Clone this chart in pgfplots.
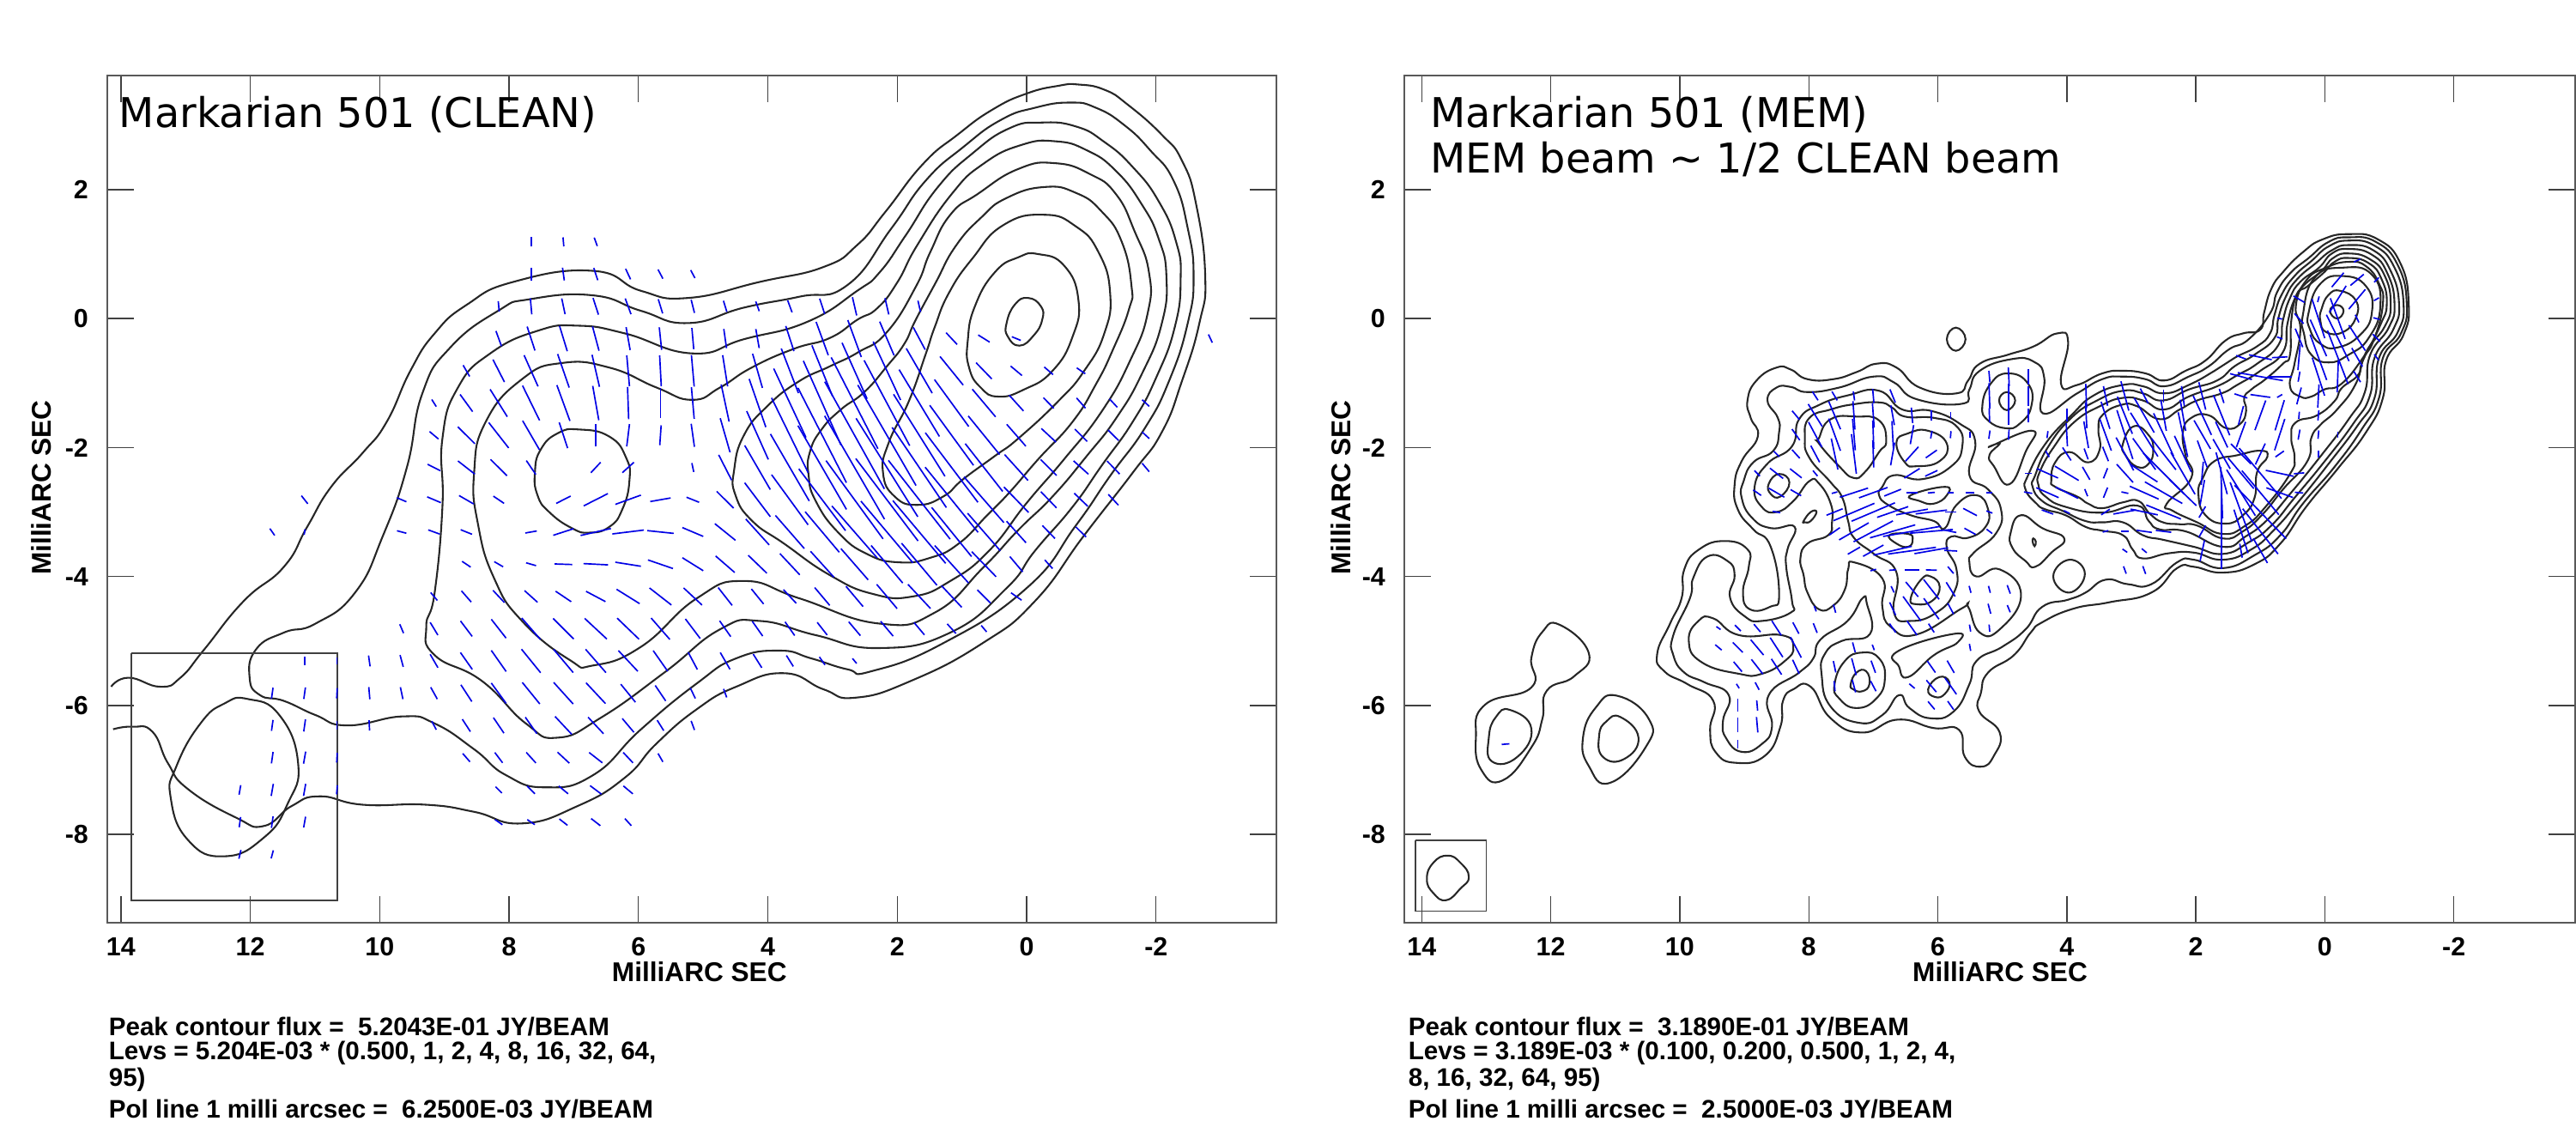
\documentclass[border=0pt]{standalone}
\usepackage{pgfplots}
\pgfplotsset{compat=1.18}
\usepackage{pgfplotstable}
\usepackage{fontspec}
\setmainfont{Liberation Sans}
\newfontfamily\ttl{DejaVu Sans}
\pgfplotstableread{
x y L a
7.66 1.19 .15 0
7.16 1.19 .14 5
6.66 1.19 .14 20
7.66 .69 .2 0
7.16 .69 .2 8
6.66 .69 .2 18
6.16 .69 .18 25
5.66 .69 .16 28
5.16 .69 .14 28
8.16 .19 .16 5
7.66 .19 .25 5
7.16 .19 .25 12
6.66 .19 .27 18
6.16 .19 .26 20
5.66 .19 .23 17
5.16 .19 .21 14
4.66 .19 .18 17
4.16 .19 .16 20
3.66 .19 .2 20
3.16 .19 .25 18
2.66 .19 .29 13
2.16 .19 .26 13
1.66 .19 .18 13
8.16 -.31 .25 20
7.66 -.31 .39 18
7.16 -.31 .41 17
6.66 -.31 .39 15
6.16 -.31 .36 10
5.66 -.31 .35 6
5.16 -.31 .33 5
4.66 -.31 .3 8
4.16 -.31 .3 10
3.66 -.31 .41 18
3.16 -.31 .55 20
2.66 -.31 .61 20
2.16 -.31 .57 23
1.66 -.31 .39 28
1.16 -.31 .25 43
.66 -.31 .21 58
.16 -.31 .15 68
-2.84 -.31 .14 25
8.66 -.81 .2 30
8.16 -.81 .39 27
7.66 -.81 .53 24
7.16 -.81 .55 19
6.66 -.81 .51 13
6.16 -.81 .48 5
5.66 -.81 .48 3
5.16 -.81 .49 5
4.66 -.81 .49 9
4.16 -.81 .55 16
3.66 -.81 .74 21
3.16 -.81 .85 22
2.66 -.81 .95 24
2.16 -.81 1.0 25
1.66 -.81 .8 30
1.16 -.81 .57 39
.66 -.81 .35 44
.16 -.81 .23 50
-.34 -.81 .18 49
-.84 -.81 .16 55
9.16 -1.31 .13 32
8.66 -1.31 .33 36
8.16 -1.31 .5 32
7.66 -1.31 .6 26
7.16 -1.31 .59 20
6.66 -1.31 .54 10
6.16 -1.31 .5 2
5.66 -1.31 .47 0
5.16 -1.31 .49 5
4.66 -1.31 .59 12
4.16 -1.31 .79 19
3.66 -1.31 1.18 25
3.16 -1.31 1.43 24
2.66 -1.31 1.59 27
2.16 -1.31 1.5 28
1.66 -1.31 1.21 31
1.16 -1.31 .9 36
.66 -1.31 .56 40
.16 -1.31 .33 42
-.34 -1.31 .23 44
-.84 -1.31 .21 41
-1.34 -1.31 .18 43
-1.84 -1.31 .15 47
9.16 -1.81 .18 50
8.66 -1.81 .37 45
8.16 -1.81 .5 38
7.66 -1.81 .52 30
7.16 -1.81 .42 18
6.66 -1.81 .35 0
6.16 -1.81 .35 -7
5.66 -1.81 .31 -4
5.16 -1.81 .36 8
4.66 -1.81 .55 16
4.16 -1.81 .82 24
3.66 -1.81 1.29 26
3.16 -1.81 1.65 27
2.66 -1.81 1.9 29
2.16 -1.81 1.8 30
1.66 -1.81 1.5 32
1.16 -1.81 1.15 36
.66 -1.81 .77 39
.16 -1.81 .45 41
-.34 -1.81 .31 47
-.84 -1.81 .27 45
-1.34 -1.81 .23 45
-1.84 -1.81 .15 47
9.16 -2.31 .22 63
8.66 -2.31 .33 52
8.16 -2.31 .36 45
7.66 -2.31 .26 34
6.66 -2.31 .22 -43
6.16 -2.31 .24 -48
5.16 -2.31 .14 12
4.66 -2.31 .44 27
4.16 -2.31 .79 30
3.66 -2.31 1.2 30
3.16 -2.31 1.5 30
2.66 -2.31 1.85 30
2.16 -2.31 1.8 32
1.66 -2.31 1.5 34
1.16 -2.31 1.35 37
.66 -2.31 .94 38
.16 -2.31 .54 42
-.34 -2.31 .35 45
-.84 -2.31 .31 48
-1.34 -2.31 .28 44
-1.84 -2.31 .17 40
11.16 -2.81 .16 38
9.66 -2.81 .16 67
9.16 -2.81 .23 67
8.66 -2.81 .26 60
8.16 -2.81 .2 56
7.16 -2.81 .25 -63
6.66 -2.81 .42 -63
6.16 -2.81 .42 -70
5.66 -2.81 .32 -80
5.16 -2.81 .21 68
4.66 -2.81 .37 45
4.16 -2.81 .66 37
3.66 -2.81 .96 36
3.16 -2.81 1.2 37
2.66 -2.81 1.5 36
2.16 -2.81 1.6 37
1.66 -2.81 1.55 38
1.16 -2.81 1.3 39
.66 -2.81 .94 41
.16 -2.81 .55 44
-.34 -2.81 .35 44
-.84 -2.81 .29 46
-1.34 -2.81 .23 43
11.66 -3.31 .13 35
11.16 -3.31 .09 -10
9.66 -3.31 .15 75
9.16 -3.31 .19 70
8.66 -3.31 .19 68
7.66 -3.31 .18 -80
7.16 -3.31 .33 -72
6.66 -3.31 .48 -77
6.16 -3.31 .49 -83
5.66 -3.31 .41 84
5.16 -3.31 .35 67
4.66 -3.31 .41 51
4.16 -3.31 .54 42
3.66 -3.31 .68 41
3.16 -3.31 .82 40
2.66 -3.31 1.07 41
2.16 -3.31 1.25 40
1.66 -3.31 1.27 40
1.16 -3.31 .98 39
.66 -3.31 .77 41
.16 -3.31 .45 42
-.34 -3.31 .28 44
-.84 -3.31 .22 45
8.66 -3.81 .16 56
8.16 -3.81 .16 60
7.66 -3.81 .16 74
7.16 -3.81 .27 88
6.66 -3.81 .38 87
6.16 -3.81 .4 81
5.66 -3.81 .41 71
5.16 -3.81 .38 58
4.66 -3.81 .39 49
4.16 -3.81 .4 46
3.66 -3.81 .45 43
3.16 -3.81 .54 42
2.66 -3.81 .64 41
2.16 -3.81 .76 40
1.66 -3.81 .85 40
1.16 -3.81 .78 42
.66 -3.81 .54 44
.16 -3.81 .31 40
-.34 -3.81 .18 42
9.16 -4.31 .16 40
8.66 -4.31 .23 41
8.16 -4.31 .26 43
7.66 -4.31 .27 48
7.16 -4.31 .29 56
6.66 -4.31 .34 62
6.16 -4.31 .42 58
5.66 -4.31 .43 52
5.16 -4.31 .39 47
4.66 -4.31 .35 38
4.16 -4.31 .3 39
3.66 -4.31 .29 43
3.16 -4.31 .36 40
2.66 -4.31 .41 40
2.16 -4.31 .49 40
1.66 -4.31 .51 43
1.16 -4.31 .46 43
.66 -4.31 .29 45
.16 -4.31 .2 55
9.66 -4.81 .15 23
9.16 -4.81 .23 31
8.66 -4.81 .3 37
8.16 -4.81 .37 38
7.66 -4.81 .44 41
7.16 -4.81 .45 45
6.66 -4.81 .47 47
6.16 -4.81 .47 46
5.66 -4.81 .44 41
5.16 -4.81 .38 37
4.66 -4.81 .3 35
4.16 -4.81 .28 35
3.66 -4.81 .26 35
3.16 -4.81 .25 38
2.66 -4.81 .28 40
2.16 -4.81 .3 40
1.66 -4.81 .25 40
1.16 -4.81 .2 42
.66 -4.81 .13 40
11.16 -5.31 .13 0
10.66 -5.31 .1 0
10.16 -5.31 .17 8
9.66 -5.31 .19 15
9.16 -5.31 .24 30
8.66 -5.31 .32 35
8.16 -5.31 .4 35
7.66 -5.31 .47 39
7.16 -5.31 .47 40
6.66 -5.31 .48 41
6.16 -5.31 .44 43
5.66 -5.31 .39 35
5.16 -5.31 .3 28
4.66 -5.31 .3 30
4.16 -5.31 .25 32
3.66 -5.31 .2 32
3.16 -5.31 .15 35
2.66 -5.31 .1 40
11.66 -5.81 .17 -8
11.16 -5.81 .18 -8
10.66 -5.81 .16 -3
10.16 -5.81 .19 5
9.66 -5.81 .19 12
9.16 -5.81 .21 29
8.66 -5.81 .31 33
8.16 -5.81 .39 36
7.66 -5.81 .43 39
7.16 -5.81 .45 42
6.66 -5.81 .44 43
6.16 -5.81 .36 39
5.66 -5.81 .29 34
5.16 -5.81 .18 26
4.66 -5.81 .14 20
11.66 -6.31 .17 -8
11.16 -6.31 .19 -8
10.66 -6.31 .13 0
10.16 -6.31 .16 3
9.16 -6.31 .15 28
8.66 -6.31 .23 33
8.16 -6.31 .29 34
7.66 -6.31 .31 35
7.16 -6.31 .38 43
6.66 -6.31 .35 43
6.16 -6.31 .28 40
5.66 -6.31 .19 32
5.16 -6.31 .15 20
11.66 -6.81 .18 -8
11.16 -6.81 .19 -10
10.66 -6.81 .15 -3
8.66 -6.81 .17 41
8.16 -6.81 .2 37
7.66 -6.81 .22 42
7.16 -6.81 .25 47
6.66 -6.81 .26 52
6.16 -6.81 .22 43
5.66 -6.81 .15 30
12.16 -7.31 .15 -10
11.66 -7.31 .19 -10
11.16 -7.31 .19 -10
10.66 -7.31 .14 -5
8.16 -7.31 .14 45
7.66 -7.31 .17 45
7.16 -7.31 .19 50
6.66 -7.31 .22 53
6.16 -7.31 .19 50
12.16 -7.81 .16 -8
11.66 -7.81 .18 -8
11.16 -7.81 .17 -10
8.16 -7.81 .14 55
7.66 -7.81 .14 56
7.16 -7.81 .16 52
6.66 -7.81 .18 52
6.16 -7.81 .15 42
12.16 -8.31 .14 -13
11.66 -8.31 .13 -15
}\poleft
\pgfplotstableread{
x y L a
9.1 -6.6 .13 0
9.1 -6.3 .22 0
8.8 -6.3 .24 5
9.1 -6.0 .2 0
8.8 -6.0 .16 5
6.1 -6.0 .16 40
5.8 -6.0 .16 35
9.1 -5.7 .08 32
8.8 -5.7 .13 28
7.6 -5.7 .16 5
7.3 -5.7 .2 15
7.0 -5.7 .18 28
6.4 -5.7 .11 50
6.1 -5.7 .24 40
5.8 -5.7 .31 35
9.1 -5.4 .2 40
8.8 -5.4 .29 38
8.5 -5.4 .29 33
8.2 -5.4 .24 25
7.6 -5.4 .18 12
7.3 -5.4 .27 15
7.0 -5.4 .2 20
6.1 -5.4 .22 35
5.8 -5.4 .22 30
9.4 -5.1 .13 50
9.1 -5.1 .22 45
8.8 -5.1 .31 40
8.5 -5.1 .36 33
8.2 -5.1 .36 28
7.3 -5.1 .16 15
7.0 -5.1 .09 20
5.5 -5.1 .11 10
9.4 -4.8 .08 55
9.1 -4.8 .13 45
8.8 -4.8 .16 40
8.5 -4.8 .27 33
8.2 -4.8 .2 28
7.9 -4.8 .16 22
6.7 -4.8 .17 35
6.4 -4.8 .27 35
6.1 -4.8 .16 33
5.5 -4.8 .11 10
5.2 -4.8 .11 5
7.9 -4.5 .09 20
7.6 -4.5 .13 15
6.7 -4.5 .22 25
6.4 -4.5 .47 36
6.1 -4.5 .4 36
5.8 -4.5 .19 28
5.2 -4.5 .16 15
4.9 -4.5 .12 22
6.7 -4.2 .11 25
6.4 -4.2 .3 40
6.1 -4.2 .39 38
5.8 -4.2 .26 32
5.5 -4.2 .11 15
5.2 -4.2 .11 15
4.9 -4.2 .14 20
7.0 -3.9 .09 -75
6.7 -3.9 .11 -85
6.4 -3.9 .22 -90
6.1 -3.9 .17 88
5.8 -3.9 .14 40
3.1 -3.9 .12 20
2.8 -3.9 .13 20
7.3 -3.6 .22 -60
7.0 -3.6 .36 -61
6.7 -3.6 .61 -77
6.4 -3.6 .75 -82
6.1 -3.6 .53 -80
5.8 -3.6 .2 87
3.1 -3.6 .09 55
2.8 -3.6 .1 50
1.9 -3.6 .33 -12
1.6 -3.6 .58 0
1.3 -3.6 .22 10
1.0 -3.6 .44 30
7.6 -3.3 .2 -55
7.3 -3.3 .53 -60
7.0 -3.3 .69 -62
6.7 -3.3 .73 -74
6.4 -3.3 .91 -80
6.1 -3.3 .67 -85
5.8 -3.3 .18 78
5.5 -3.3 .2 61
5.2 -3.3 .11 53
3.4 -3.3 .09 -75
3.1 -3.3 .11 90
2.8 -3.3 .24 82
2.5 -3.3 .24 83
1.9 -3.3 .21 -30
1.6 -3.3 .89 0
1.3 -3.3 .71 18
1.0 -3.3 .89 38
8.5 -3.0 .12 80
7.6 -3.0 .27 -68
7.3 -3.0 .69 -67
7.0 -3.0 .73 -67
6.7 -3.0 .51 -71
6.4 -3.0 .5 -80
6.1 -3.0 .49 -83
5.8 -3.0 .18 -90
5.5 -3.0 .24 62
5.2 -3.0 .1 70
4.3 -3.0 .19 70
4.0 -3.0 .1 63
3.4 -3.0 .16 -57
3.1 -3.0 .36 -80
2.8 -3.0 .43 78
2.5 -3.0 .58 68
1.9 -3.0 .2 -30
1.6 -3.0 .89 0
1.3 -3.0 .98 20
1.0 -3.0 1.15 44
8.8 -2.7 .15 55
8.5 -2.7 .28 60
8.2 -2.7 .19 60
7.6 -2.7 .09 -75
7.3 -2.7 .46 -72
7.0 -2.7 .47 -70
6.7 -2.7 .28 -68
6.4 -2.7 .18 -90
6.1 -2.7 .11 -85
5.8 -2.7 .09 90
5.5 -2.7 .13 90
5.2 -2.7 .09 90
4.6 -2.7 .13 80
4.3 -2.7 .38 66
4.0 -2.7 .39 63
3.7 -2.7 .12 22
3.4 -2.7 .17 -22
3.1 -2.7 .11 78
2.8 -2.7 .49 66
2.5 -2.7 .67 60
2.2 -2.7 .58 46
1.9 -2.7 .4 -10
1.6 -2.7 .8 2
1.3 -2.7 .84 32
1.0 -2.7 .89 40
.7 -2.7 .44 70
.4 -2.7 .13 85
8.8 -2.4 .12 45
8.5 -2.4 .26 52
8.2 -2.4 .23 52
7.9 -2.4 .11 40
6.4 -2.4 .28 -58
6.1 -2.4 .21 -65
4.6 -2.4 .11 90
4.3 -2.4 .36 66
4.0 -2.4 .43 59
3.7 -2.4 .23 30
3.4 -2.4 .17 -22
3.1 -2.4 .38 42
2.8 -2.4 .49 57
2.5 -2.4 .89 45
2.2 -2.4 .75 30
1.9 -2.4 .36 -5
1.6 -2.4 .67 15
1.3 -2.4 .62 40
1.0 -2.4 1.02 40
.7 -2.4 .44 78
.4 -2.4 .16 -85
8.5 -2.1 .12 45
8.2 -2.1 .18 42
7.9 -2.1 .29 28
7.6 -2.1 .49 12
7.3 -2.1 .62 7
7.0 -2.1 .42 2
6.7 -2.1 .36 -10
6.4 -2.1 .3 -42
6.1 -2.1 .21 -55
4.3 -2.1 .11 30
4.0 -2.1 .24 33
3.7 -2.1 .18 20
3.4 -2.1 .24 22
3.1 -2.1 .58 28
2.8 -2.1 .6 36
2.5 -2.1 .62 38
2.2 -2.1 .62 25
1.9 -2.1 .44 20
1.6 -2.1 .53 30
1.3 -2.1 .44 45
1.0 -2.1 .36 -25
.7 -2.1 .16 -55
.1 -2.1 .11 0
8.2 -1.8 .21 35
7.9 -1.8 .44 28
7.6 -1.8 .53 20
7.3 -1.8 .49 5
7.0 -1.8 .44 2
6.7 -1.8 .42 3
6.4 -1.8 .3 -10
6.1 -1.8 .12 -10
5.8 -1.8 .11 -5
5.5 -1.8 .1 0
5.2 -1.8 .13 -8
4.9 -1.8 .16 -3
4.3 -1.8 .11 -8
4.0 -1.8 .36 3
3.7 -1.8 .42 10
3.4 -1.8 .53 20
3.1 -1.8 .8 18
2.8 -1.8 .8 32
2.5 -1.8 .73 25
2.2 -1.8 .71 12
1.9 -1.8 .51 30
1.6 -1.8 .44 25
1.3 -1.8 .42 -20
.7 -1.8 .51 -18
.4 -1.8 .16 -10
.1 -1.8 .13 -5
-.2 -1.8 .09 0
8.2 -1.5 .18 40
7.9 -1.5 .41 32
7.6 -1.5 .47 23
7.3 -1.5 .44 4
7.0 -1.5 .38 4
6.7 -1.5 .31 10
6.4 -1.5 .24 5
6.1 -1.5 .16 0
5.8 -1.5 .11 0
5.2 -1.5 .22 2
4.9 -1.5 .31 0
4.6 -1.5 .22 0
4.0 -1.5 .2 0
3.7 -1.5 .4 3
3.4 -1.5 .44 18
3.1 -1.5 .62 22
2.8 -1.5 .62 30
2.5 -1.5 .49 10
2.2 -1.5 .49 10
1.9 -1.5 .67 25
1.6 -1.5 .67 22
1.3 -1.5 .3 -15
1.0 -1.5 .49 -20
.7 -1.5 .49 -17
.4 -1.5 .11 -5
.1 -1.5 .16 -5
7.9 -1.2 .16 33
7.6 -1.2 .16 31
7.3 -1.2 .14 8
7.0 -1.2 .22 5
6.7 -1.2 .22 22
5.2 -1.2 .4 2
4.9 -1.2 .38 0
4.6 -1.2 .31 0
3.7 -1.2 .38 2
3.4 -1.2 .31 12
3.1 -1.2 .47 15
2.8 -1.2 .26 28
2.5 -1.2 .2 0
2.2 -1.2 .31 8
1.9 -1.2 .44 14
1.6 -1.2 .23 18
1.3 -1.2 .21 72
1.0 -1.2 .31 82
.7 -1.2 .09 -60
.4 -1.2 .27 -15
.1 -1.2 .36 -3
5.2 -.9 .18 5
4.9 -.9 .29 3
4.6 -.9 .24 0
1.3 -.9 .35 75
1.0 -.9 .71 80
.7 -.9 .38 90
.4 -.9 .16 -10
.1 -.9 .62 18
-.2 -.9 .49 -2
-.5 -.9 .2 32
1.3 -.6 .16 70
1.0 -.6 .36 78
.7 -.6 .24 -87
.4 -.6 .4 -5
.1 -.6 .75 20
-.2 -.6 .89 21
-.5 -.6 .33 30
-.8 -.6 .11 37
.7 -.3 .09 70
.4 -.3 .31 22
.1 -.3 .62 24
-.2 -.3 .8 26
-.5 -.3 .47 33
-.8 -.3 .16 45
.7 0 .08 80
.4 0 .21 42
.1 0 .64 18
-.2 0 .67 20
-.5 0 .13 25
-.8 0 .1 75
.4 .3 .2 60
.1 .3 .09 -15
-.2 .3 .49 -32
-.5 .3 .4 -40
-.8 .3 .09 -60
-.2 .6 .29 -40
-.5 .6 .27 -50
-.8 .6 .1 -45
-.5 .9 .11 -65
12.7 -6.6 .12 -85
}\poright
\pgfplotsset{
 chart/.style={
  scale only axis, width=340.5pt, height=246.75pt, anchor=south west,
  x dir=reverse, axis line style={color=black!65,line width=.6pt},
  tick style={color=black!75,line width=.35pt},
  major tick length=7.8pt, tick align=inside, clip=false,
  xtick={-2,0,2,4,6,8,10,12,14}, xticklabels={-2,0,2,4,6,8,10,12,14},
  ytick={-8,-6,-4,-2,0,2}, yticklabels={-8,-6,-4,-2,0,2},
  ymin=-9.37, ymax=3.77,
  tick label style={font=\fontsize{7.6}{8}\selectfont\bfseries},
  xticklabel style={yshift=-.9pt}, yticklabel style={xshift=-2pt},
 },
 ct/.style={color=black!85,line width=.52pt,smooth cycle,tension=.85,no markers},
 cto/.style={color=black!85,line width=.52pt,smooth,tension=.85,no markers},
 pol/.style={color=blue!90!black,line width=.42pt,no markers,
   quiver={u=\thisrow{L}*sin(\thisrow{a}),v=\thisrow{L}*cos(\thisrow{a})}},
}
\newcommand\lab[4]{\node[anchor=west,font=\fontsize{7.4}{8}\selectfont\bfseries,inner sep=0pt] at (#1pt,#2pt) {#3};}
\begin{document}
\begin{tikzpicture}[x=1pt,y=1pt]
\path[use as bounding box] (0,0) rectangle (750.25,326.5);
\begin{axis}[chart, at={(31.25pt,57.75pt)}, xmin=-3.86, xmax=14.21]
\addplot[cto] coordinates {(14.15,-5.71)(13.88,-5.57)(13.39,-5.71)(13.08,-5.57)(12.71,-5.13)(12.1,-4.38)(11.48,-3.85)(11.12,-3.23)(10.75,-2.61)(10.26,-2.08)(9.89,-1.6)(9.52,-.8)(9.15,-.23)(8.66,.21)(7.93,.57)(6.7,.74)(5.96,.43)(5.23,.32)(4.12,.57)(3.14,.8)(2.62,1.14)(2.18,1.66)(1.6,2.4)(1.07,2.85)(.53,3.24)(0,3.49)(-.49,3.61)(-.8,3.63)(-1.2,3.55)(-1.56,3.32)(-2.09,2.85)(-2.4,2.45)(-2.62,1.77)(-2.76,.66)(-2.67,-.07)(-2.4,-.97)(-2.09,-1.76)(-1.64,-2.39)(-.89,-3.36)(-.13,-4.38)(.69,-5.04)(1.79,-5.62)(2.65,-5.88)(3.14,-5.75)(3.75,-5.5)(4.49,-5.71)(5.1,-6.06)(5.72,-6.59)(6.21,-7.12)(6.94,-7.56)(7.8,-7.83)(8.54,-7.65)(9.28,-7.54)(10.26,-7.54)(10.93,-7.41)(11.36,-7.56)(11.79,-7.87)(12.22,-7.74)(12.96,-7.3)(13.27,-6.9)(13.51,-6.41)(13.82,-6.33)(14.12,-6.37)};
\addplot[ct] coordinates {(12.01,-5.57)(11.91,-5.13)(11.48,-4.87)(10.99,-4.73)(10.38,-4.25)(9.95,-3.37)(9.58,-2.31)(9.34,-1.16)(8.91,-.45)(8.17,.12)(7.68,.3)(6.7,.36)(5.96,.12)(5.23,-.07)(4.37,.17)(3.51,.34)(2.77,.52)(2.09,1.4)(1.56,2.14)(.98,2.66)(.4,3.08)(-.13,3.27)(-.67,3.35)(-1.07,3.27)(-1.51,3.0)(-1.91,2.61)(-2.27,2.14)(-2.49,1.4)(-2.58,.66)(-2.49,-.07)(-2.2,-.97)(-1.82,-1.71)(-1.29,-2.44)(-.76,-3.21)(0,-4.18)(1.3,-5.04)(2.4,-5.47)(2.77,-5.44)(3.33,-5.27)(3.82,-5.15)(4.49,-5.27)(5.1,-5.66)(5.96,-6.37)(6.7,-7.08)(7.44,-7.27)(8.05,-7.08)(8.54,-6.68)(9.15,-6.28)(9.64,-6.17)(10.5,-6.31)(10.99,-6.15)(11.48,-5.93)(11.85,-5.84)};
\addplot[ct] coordinates {(2.62,.43)(2.27,.72)(1.87,1.29)(1.38,2.03)(.84,2.56)(.27,2.95)(-.22,3.04)(-.76,2.98)(-1.2,2.74)(-1.64,2.35)(-2.04,1.82)(-2.31,1.19)(-2.38,.61)(-2.29,-.13)(-2.0,-.92)(-1.64,-1.6)(-1.16,-2.28)(-.71,-2.92)(-.13,-3.6)(.31,-4.18)(1.18,-4.87)(2.28,-5.11)(3.26,-4.91)(4.12,-4.69)(4.74,-4.82)(5.6,-5.49)(6.58,-6.19)(7.25,-6.5)(7.74,-6.28)(8.42,-5.62)(9.15,-5.22)(9.28,-4.78)(9.15,-4.25)(9.03,-2.92)(9.03,-1.86)(8.79,-1.07)(8.29,-.54)(7.56,-.19)(6.94,-.11)(6.21,-.23)(5.17,-.54)(4.37,-.32)(3.39,-.05)};
\addplot[ct] coordinates {(2.62,-.02)(2.31,.16)(2,.56)(1.69,1.14)(1.16,1.93)(.67,2.4)(.09,2.69)(-.44,2.75)(-.93,2.61)(-1.38,2.29)(-1.78,1.77)(-2.04,1.24)(-2.16,.66)(-2.09,-.07)(-1.78,-.86)(-1.38,-1.55)(-.93,-2.13)(-.4,-2.76)(.13,-3.28)(.67,-3.86)(1.42,-4.56)(2.28,-4.73)(3.51,-4.34)(4.37,-4.07)(5.1,-4.34)(5.96,-5.09)(6.7,-5.38)(7.07,-5.29)(7.8,-4.69)(8.23,-4.03)(8.48,-3.19)(8.54,-2.39)(8.36,-1.6)(7.8,-.94)(7.19,-.69)(6.45,-.76)(5.72,-1.07)(5.17,-1.26)(4.74,-1.07)(4.25,-.76)(3.6,-.47)(3.04,-.3)};
\addplot[ct] coordinates {(.76,1.93)(.13,2.32)(-.44,2.41)(-.98,2.24)(-1.38,1.93)(-1.67,1.35)(-1.89,.72)(-1.87,.08)(-1.6,-.65)(-1.16,-1.44)(-.58,-2.18)(0,-2.86)(.58,-3.6)(1.18,-4.07)(1.76,-4.31)(2.38,-4.27)(3.04,-3.98)(3.75,-3.49)(4.24,-3.14)(4.5,-2.74)(4.52,-2.34)(4.37,-1.81)(4.01,-1.36)(3.53,-.98)(3.04,-.74)(2.6,-.52)(2.16,-.21)(1.71,.5)(1.49,1.03)(1.18,1.61)};
\addplot[ct] coordinates {(.31,1.87)(-.27,2.04)(-.76,1.95)(-1.16,1.66)(-1.47,1.19)(-1.62,.51)(-1.58,.14)(-1.33,-.49)(-1.07,-1.02)(-.71,-1.6)(-.18,-2.18)(.26,-2.69)(.61,-3.05)(1.05,-3.49)(1.49,-3.71)(1.98,-3.78)(2.47,-3.65)(2.91,-3.32)(3.26,-2.83)(3.37,-2.43)(3.35,-2.07)(3.17,-1.72)(2.87,-1.41)(2.51,-1.14)(2.16,-.74)(1.89,-.39)(1.72,-.03)(1.41,.55)(1.1,1.12)(.7,1.57)};
\addplot[ct] coordinates {(-.27,1.61)(-.76,1.43)(-1.11,1.03)(-1.29,.4)(-1.2,-.23)(-.89,-.81)(-.49,-1.28)(.13,-1.86)(.49,-2.13)(.98,-2.49)(1.29,-2.76)(1.69,-2.89)(2.04,-2.76)(2.22,-2.39)(2.13,-1.92)(1.82,-1.28)(1.56,-.55)(1.42,-.13)(1.2,.4)(.84,.93)(.36,1.45)};
\addplot[ct] coordinates {(-.18,1.0)(-.58,.82)(-.8,.29)(-.71,-.28)(-.4,-.81)(.04,-1.1)(.44,-1.21)(.71,-1.07)(.89,-.76)(.91,-.34)(.8,.19)(.49,.72)(.13,.95)};
\addplot[ct] coordinates {(-.02,.32)(-.22,.19)(-.24,-.02)(-.11,-.26)(.11,-.42)(.29,-.28)(.31,-.07)(.18,.22)};
\addplot[ct] coordinates {(6.92,-1.72)(6.45,-1.83)(6.19,-2.16)(6.14,-2.52)(6.25,-2.96)(6.45,-3.23)(6.76,-3.32)(7.03,-3.25)(7.38,-3.0)(7.56,-2.74)(7.6,-2.38)(7.51,-2.03)(7.25,-1.78)};
\addplot[ct] coordinates {(12.04,-5.9)(11.55,-6.15)(11.26,-6.9)(11.42,-7.52)(11.79,-8.05)(12.4,-8.34)(12.96,-8.09)(13.23,-7.43)(13.14,-6.94)(12.77,-6.28)(12.4,-5.97)};
\addplot[color=black!75,line width=.45pt,no markers] coordinates {(13.84,-5.19)(10.65,-5.19)(10.65,-9.02)(13.84,-9.02)(13.84,-5.19)};
\addplot[pol] table[x expr=\thisrow{x}-.5*\thisrow{L}*sin(\thisrow{a}), y expr=\thisrow{y}-.5*\thisrow{L}*cos(\thisrow{a})] {\poleft};
\end{axis}
\begin{axis}[chart, at={(409pt,57.75pt)}, width=341pt, xmin=-3.88, xmax=14.27]
% outer
\addplot[ct] coordinates {(-.37,1.31)(-.82,1.23)(-1.17,.86)(-1.3,.23)(-1.22,-.25)(-.95,-.65)(-.9,-1.23)(-.64,-1.76)(-.19,-2.34)(.29,-2.92)(.69,-3.49)(1.09,-3.81)(1.58,-3.94)(2.03,-3.85)(2.29,-3.87)(2.69,-4.25)(3.34,-4.4)(3.9,-4.5)(4.38,-4.71)(4.56,-4.87)(4.82,-5.22)(5.22,-5.49)(5.33,-5.8)(5.36,-6.09)(5.04,-6.42)(5.13,-6.78)(5.33,-6.95)(5.58,-6.8)(5.67,-6.38)(6.07,-6.35)(6.62,-6.22)(7.17,-6.42)(7.66,-6.2)(7.97,-5.71)(8.24,-5.75)(8.4,-5.93)(8.44,-6.33)(8.68,-6.78)(9.13,-6.89)(9.44,-6.73)(9.53,-6.38)(9.48,-5.93)(9.88,-5.67)(10.24,-5.47)(10.35,-5.2)(10.15,-4.73)(9.97,-4.33)(9.93,-3.89)(9.7,-3.58)(9.3,-3.45)(8.95,-3.58)(8.93,-3.85)(9.02,-4.25)(8.91,-4.51)(8.6,-4.47)(8.46,-4.29)(8.59,-3.54)(8.86,-3.27)(9.1,-2.96)(9.15,-2.58)(9.04,-2.21)(8.79,-1.83)(8.9,-1.54)(8.95,-1.27)(8.81,-.96)(8.5,-.76)(8.28,-.79)(8.02,-.94)(7.62,-.94)(7.26,-.83)(6.95,-.7)(6.64,-.76)(6.28,-1.07)(5.71,-1.16)(5.53,-.96)(5.35,-.7)(4.91,-.56)(4.51,-.43)(4.15,-.23)(3.98,-.36)(4.09,-1.01)(3.84,-1.03)(3.45,-.85)(3.13,-.81)(2.78,-.85)(2.49,-.96)(2.16,-.81)(1.85,-.65)(1.54,-.34)(1.27,-.23)(1.0,-.17)(.94,.1)(.83,.46)(.65,.72)(.34,1.03)(.03,1.23)};
\addplot[ct] coordinates {(-.37,1.26)(-.79,1.19)(-1.13,.83)(-1.27,.23)(-1.18,-.23)(-.9,-.61)(-.84,-1.23)(-.57,-1.72)(-.15,-2.3)(.34,-2.87)(.69,-3.36)(1.09,-3.67)(1.58,-3.87)(2.03,-3.74)(2.29,-3.78)(2.69,-4.12)(3.05,-4.12)(3.4,-4.05)(3.71,-4.25)(3.98,-4.36)(4.38,-4.47)(4.64,-4.82)(5.0,-5.09)(5.4,-5.31)(5.51,-5.67)(5.75,-6.09)(6.11,-6.2)(6.44,-6.04)(6.6,-5.84)(6.86,-6.15)(7.22,-6.27)(7.66,-6.02)(7.8,-5.53)(7.75,-5.2)(7.49,-5.0)(7.05,-4.89)(7.1,-4.42)(7.17,-4.34)(7.4,-4.69)(7.82,-4.98)(7.93,-5.27)(8.15,-5.49)(8.62,-5.84)(8.57,-6.33)(8.73,-6.6)(9.04,-6.72)(9.28,-6.51)(9.33,-6.24)(9.24,-5.84)(9.62,-5.64)(9.93,-5.49)(10.1,-5.22)(10.1,-4.91)(9.84,-4.33)(9.79,-4.02)(9.57,-3.69)(9.26,-3.76)(9.15,-3.98)(9.22,-4.33)(8.99,-4.62)(8.73,-4.69)(8.28,-4.56)(8.26,-4.38)(8.35,-3.85)(8.33,-3.58)(8.22,-3.23)(8.59,-3.25)(8.88,-3.09)(9.04,-2.78)(9.01,-2.52)(8.86,-2.23)(8.55,-2.05)(8.46,-1.76)(8.48,-1.54)(8.64,-1.27)(8.5,-1.07)(8.28,-1.06)(8.02,-1.14)(7.53,-1.07)(7.0,-.9)(6.68,-.99)(6.33,-1.25)(5.62,-1.32)(5.51,-1.1)(5.35,-.81)(4.86,-.63)(4.51,-.67)(4.35,-.92)(4.37,-1.47)(3.84,-1.16)(3.45,-.94)(3.13,-.9)(2.78,-.94)(2.49,-1.05)(2.11,-.9)(1.8,-.74)(1.49,-.48)(1.18,-.32)(.85,.08)(.74,.41)(.54,.7)(.25,.94)(-.06,1.19)};
\addplot[ct] coordinates {(-.37,1.21)(-.77,1.13)(-1.08,.79)(-1.22,.23)(-1.13,-.21)(-.84,-.61)(-.77,-1.23)(-.5,-1.67)(-.06,-2.25)(.4,-2.83)(.78,-3.27)(1.14,-3.58)(1.58,-3.74)(2.03,-3.63)(2.42,-3.64)(2.82,-3.72)(2.98,-3.58)(3.13,-3.36)(3.45,-3.29)(3.71,-3.23)(4.02,-3.05)(4.33,-2.96)(4.47,-2.87)(4.64,-2.65)(4.6,-2.43)(4.33,-1.94)(3.93,-1.5)(3.58,-1.19)(3.13,-1.03)(2.82,-1.05)(2.49,-1.16)(2.11,-1.03)(1.71,-.81)(1.4,-.61)(1.05,-.43)(.85,-.23)(.78,.06)(.67,.37)(.47,.66)(.2,.9)(-.06,1.12)};
\addplot[ct] coordinates {(-.37,1.14)(-.75,1.06)(-1.02,.74)(-1.15,.23)(-1.06,-.17)(-.77,-.61)(-.7,-1.19)(-.44,-1.63)(0,-2.21)(.47,-2.78)(.83,-3.21)(1.18,-3.47)(1.58,-3.65)(2.03,-3.54)(2.51,-3.43)(2.82,-3.36)(3.13,-3.16)(3.45,-3.16)(3.71,-3.14)(4.07,-2.98)(4.38,-2.83)(4.53,-2.61)(4.49,-2.43)(4.29,-1.99)(3.93,-1.54)(3.53,-1.27)(3.13,-1.12)(2.82,-1.16)(2.51,-1.27)(2.11,-1.1)(1.67,-.96)(1.4,-.74)(1.09,-.56)(.78,-.3)(.72,.01)(.6,.35)(.43,.61)(.14,.86)(-.11,1.06)};
\addplot[ct] coordinates {(-.37,1.08)(-.73,.99)(-.97,.7)(-1.08,.23)(-.99,-.14)(-.7,-.57)(-.62,-1.14)(-.37,-1.56)(.07,-2.14)(.54,-2.72)(.89,-3.12)(1.23,-3.38)(1.58,-3.54)(2.16,-3.3)(2.56,-3.27)(2.73,-3.14)(2.91,-2.9)(3.45,-3.01)(4.02,-2.92)(4.33,-2.76)(4.44,-2.58)(4.42,-2.38)(4.2,-1.99)(3.89,-1.61)(3.49,-1.36)(3.13,-1.23)(2.82,-1.27)(2.49,-1.41)(2.11,-1.21)(1.67,-1.05)(1.36,-.88)(1.05,-.7)(.72,-.41)(.65,-.03)(.54,.32)(.38,.57)(.09,.79)(-.11,1.01)};
\addplot[ct] coordinates {(-.37,1.01)(-.7,.92)(-.93,.66)(-1.02,.23)(-.93,-.12)(-.64,-.52)(-.48,-1.01)(-.19,-1.41)(.07,-1.65)(.21,-1.85)(.27,-2.21)(.65,-2.65)(.96,-3.03)(1.27,-3.3)(1.58,-3.41)(1.98,-3.21)(2.25,-3.19)(2.51,-3.16)(2.71,-3.03)(2.89,-2.83)(3.13,-2.85)(3.45,-2.94)(3.67,-2.87)(3.84,-2.76)(4.18,-2.61)(4.24,-2.5)(4.18,-2.23)(3.96,-2.07)(3.67,-2.23)(3.49,-2.03)(3.51,-1.72)(3.45,-1.5)(3.16,-1.34)(2.91,-1.36)(2.56,-1.56)(2.25,-1.41)(1.98,-1.27)(1.6,-1.16)(1.36,-1.03)(1.0,-.81)(.65,-.52)(.58,-.08)(.47,.3)(.32,.52)(.05,.74)(-.13,.94)};
\addplot[ct] coordinates {(-.37,.94)(-.68,.86)(-.88,.61)(-.96,.23)(-.86,-.1)(-.59,-.65)(-.51,-.88)(-.26,-1.08)(-.15,-1.28)(.12,-1.5)(.45,-1.61)(.52,-1.85)(.47,-2.16)(.54,-2.41)(.92,-2.92)(1.23,-3.21)(1.58,-3.34)(1.98,-3.16)(2.36,-2.98)(2.45,-2.87)(2.07,-2.47)(2.16,-2.12)(2.2,-1.76)(2.07,-1.54)(1.8,-1.5)(1.53,-1.7)(1.31,-1.63)(1.22,-1.43)(1.25,-1.23)(1.14,-1.1)(.92,-.94)(.65,-.7)(.54,-.56)(.52,-.03)(.43,.37)(.27,.5)(.03,.7)(-.15,.88)};
\addplot[ct] coordinates {(-.37,.88)(-.64,.81)(-.84,.54)(-.9,.23)(-.77,-.3)(-.59,-.61)(-.26,-1.01)(.01,-1.1)(.21,-1.21)(.38,-1.21)(.54,-1.05)(.47,-.7)(.38,-.17)(.45,.19)(.29,.59)(-.02,.79)};
\addplot[ct] coordinates {(-.28,.79)(-.73,.68)(-.86,.19)(-.68,-.3)(-.37,-.56)(-.06,-.68)(.21,-.56)(.32,-.25)(.34,.06)(.16,.63)};
\addplot[ct] coordinates {(-.28,.66)(-.64,.5)(-.73,.1)(-.55,-.25)(-.19,-.45)(.07,-.39)(.23,-.17)(.25,.1)(.07,.54)};
\addplot[ct] coordinates {(-.24,.43)(-.48,.28)(-.48,.01)(-.28,-.21)(-.02,-.21)(.07,-.03)(.05,.15)(-.06,.37)};
\addplot[ct] coordinates {(-.19,.21)(-.29,.12)(-.19,0)(-.08,.12)};
\addplot[ct] coordinates {(1.96,-2.72)(1.89,-2.47)(1.71,-2.21)(1.36,-2.12)(1.0,-2.05)(.89,-2.14)(1.05,-2.38)(1.09,-2.78)(1.27,-3.05)(1.54,-3.18)(1.85,-3.05)};
\addplot[ct] coordinates {(3.13,-1.94)(2.96,-1.67)(2.73,-1.81)(2.66,-2.03)(2.73,-2.25)(2.91,-2.3)(3.09,-2.12)};
% middle
\addplot[ct] coordinates {(7.99,-2.52)(7.84,-2.56)(7.66,-2.87)(7.64,-3.16)(7.7,-3.36)(8.02,-3.49)(8.13,-3.72)(8.08,-3.98)(8.02,-4.25)(7.84,-4.51)(7.62,-4.45)(7.44,-4.2)(7.39,-3.89)(7.3,-3.78)(6.86,-4.03)(6.86,-4.47)(6.73,-4.78)(6.33,-4.9)(5.62,-4.49)(5.53,-4.47)(5.35,-4.87)(5.04,-4.82)(4.71,-4.29)(5.04,-3.89)(5.4,-4.0)(5.51,-3.78)(5.44,-3.63)(5.09,-3.32)(5.02,-2.96)(5.22,-2.65)(5.51,-2.43)(5.42,-1.9)(5.66,-1.63)(6.11,-1.43)(6.55,-1.41)(6.91,-1.12)(7.39,-1.19)(7.84,-1.34)(8.15,-1.56)(8.26,-1.98)(8.64,-2.25)(8.84,-2.61)(8.73,-2.92)(8.5,-3.0)(8.24,-2.83)};
\addplot[ct] coordinates {(8.06,-1.85)(7.99,-1.54)(7.66,-1.41)(7.31,-1.33)(6.91,-1.3)(6.71,-1.38)(6.51,-1.52)(6.06,-1.54)(5.71,-1.67)(5.62,-1.98)(5.79,-2.29)(6.24,-2.49)(6.68,-2.43)(6.86,-2.61)(6.91,-2.74)(6.77,-2.89)(6.42,-3.05)(6.06,-3.14)(5.89,-3.25)(5.71,-2.89)(5.4,-2.74)(5.22,-2.96)(5.26,-3.23)(5.53,-3.4)(5.79,-3.38)(5.86,-3.56)(5.71,-3.89)(5.75,-4.25)(6.02,-4.56)(6.42,-4.69)(6.68,-4.56)(6.64,-3.94)(6.99,-3.65)(7.3,-3.4)(7.39,-3.14)(7.48,-2.78)(7.66,-2.54)(7.99,-2.16)};
\addplot[ct] coordinates {(7.84,-1.85)(7.66,-1.56)(7.26,-1.52)(6.91,-1.58)(6.8,-1.9)(6.91,-2.07)(7.13,-2.38)(7.31,-2.47)(7.53,-2.29)(7.84,-1.94)};
\addplot[ct] coordinates {(6.64,-1.92)(6.46,-1.78)(6.15,-1.74)(5.86,-1.94)(5.97,-2.21)(6.33,-2.29)(6.51,-2.23)};
\addplot[ct] coordinates {(6.42,-2.74)(5.89,-2.61)(5.86,-2.74)(6.06,-2.87)(6.28,-2.83)};
\addplot[ct] coordinates {(6.75,-3.36)(6.46,-3.34)(6.39,-3.43)(6.46,-3.54)(6.64,-3.49)};
\addplot[ct] coordinates {(6.42,-4.34)(6.26,-4.05)(6.11,-4.0)(5.97,-4.16)(6.09,-4.38)(6.33,-4.43)};
\addplot[ct] coordinates {(8.62,-2.56)(8.46,-2.41)(8.3,-2.54)(8.44,-2.76)(8.59,-2.72)};
\addplot[ct] coordinates {(6.62,-5.16)(5.75,-4.89)(5.69,-5.02)(6.06,-5.22)(6.46,-5.56)(6.6,-5.4)};
\addplot[ct] coordinates {(9.86,-5.0)(9.71,-4.69)(9.48,-4.65)(9.08,-4.91)(8.42,-4.91)(8.24,-5.09)(8.37,-5.31)(8.73,-5.51)(9.08,-5.51)(9.66,-5.33)};
\addplot[ct] coordinates {(7.6,-5.67)(7.44,-5.31)(7.17,-5.18)(6.91,-5.27)(6.82,-5.58)(6.95,-5.89)(7.26,-6.04)(7.53,-5.89)};
\addplot[ct] coordinates {(7.35,-5.67)(7.26,-5.49)(7.11,-5.47)(7.06,-5.67)(7.17,-5.78)(7.31,-5.75)};
\addplot[ct] coordinates {(6.15,-5.75)(5.98,-5.56)(5.82,-5.64)(5.89,-5.82)(6.04,-5.87)};
\addplot[ct] coordinates {(5.31,-1.36)(5.18,-1.01)(4.91,-.85)(4.6,-1.01)(4.55,-1.36)(4.73,-1.63)(4.95,-1.7)(5.22,-1.58)};
\addplot[ct] coordinates {(5.05,-1.27)(4.93,-1.14)(4.8,-1.27)(4.93,-1.42)};
\addplot[ct] coordinates {(8.08,-3.14)(7.97,-3.0)(7.88,-3.0)(7.97,-3.14)(8.06,-3.16)};
\addplot[ct] coordinates {(5.18,-1.98)(4.53,-1.74)(4.64,-2.07)(4.89,-2.57)(5.13,-2.29)(5.2,-2.12)(5.04,-1.94)};
\addplot[ct] coordinates {(5.72,-.14)(5.57,-.32)(5.72,-.5)(5.86,-.32)};
\addplot[ct] coordinates {(3.96,-3.74)(3.72,-3.96)(3.96,-4.25)(4.21,-4.0)};
\addplot[ct] coordinates {(4.71,-3.05)(4.38,-3.25)(4.04,-3.41)(4.24,-3.63)(4.49,-3.85)(4.64,-3.76)(4.84,-3.56)(4.87,-3.32)};
\addplot[ct] coordinates {(4.52,-3.41)(4.48,-3.46)(4.5,-3.53)(4.53,-3.46)};
\addplot[ct] coordinates {(11.86,-4.75)(11.41,-5.19)(11.64,-5.55)(12.06,-5.77)(12.13,-6.21)(12.3,-6.65)(12.74,-7.16)(13.07,-7.01)(13.16,-6.5)(13.02,-5.99)(12.3,-5.72)(12.3,-5.26)(12.13,-4.86)};
\addplot[ct] coordinates {(12.63,-6.07)(12.3,-6.36)(12.52,-6.8)(12.91,-6.87)(12.96,-6.5)(12.85,-6.18)};
\addplot[ct] coordinates {(10.97,-5.85)(10.48,-6.21)(10.53,-6.65)(11.08,-7.2)(11.41,-6.94)(11.5,-6.5)(11.3,-6.03)};
\addplot[ct] coordinates {(10.92,-6.18)(10.64,-6.5)(10.86,-6.83)(11.19,-6.8)(11.25,-6.47)(11.14,-6.25)};
\addplot[ct] coordinates {(13.6,-8.33)(13.4,-8.44)(13.27,-8.66)(13.4,-8.84)(13.62,-9.02)(13.82,-8.91)(13.92,-8.69)(13.82,-8.44)};
\addplot[color=black!75,line width=.45pt,no markers] coordinates {(14.1,-8.09)(13.0,-8.09)(13.0,-9.19)(14.1,-9.19)(14.1,-8.09)};
\addplot[pol] table[x expr=\thisrow{x}-.5*\thisrow{L}*sin(\thisrow{a}), y expr=\thisrow{y}-.5*\thisrow{L}*cos(\thisrow{a})] {\poright};
\end{axis}
% texts
\node[anchor=west,inner sep=0pt,font=\ttl\fontsize{11.95}{13}\selectfont] at (34.5,293) {Markarian 501 (CLEAN)};
\node[anchor=west,inner sep=0pt,font=\ttl\fontsize{11.95}{13}\selectfont] at (416.3,293) {Markarian 501 (MEM)};
\node[anchor=west,inner sep=0pt,font=\ttl\fontsize{11.95}{13}\selectfont] at (416.3,280) {MEM beam \char"007E\ 1/2 CLEAN beam};
\node[rotate=90,font=\fontsize{7.9}{8}\selectfont\bfseries,inner sep=0pt] at (12,184.5) {MilliARC SEC};
\node[rotate=90,font=\fontsize{7.9}{8}\selectfont\bfseries,inner sep=0pt] at (390.5,184.5) {MilliARC SEC};
\node[font=\fontsize{7.9}{8}\selectfont\bfseries,inner sep=0pt] at (203.7,43.5) {MilliARC SEC};
\node[font=\fontsize{7.9}{8}\selectfont\bfseries,inner sep=0pt] at (582.5,43.5) {MilliARC SEC};
\lab{31.5}{27.5}{Peak contour flux =\ \ 5.2043E-01 JY/BEAM}{}
\lab{31.5}{19.8}{Levs = 5.204E-03 * (0.500, 1, 2, 4, 8, 16, 32, 64,}{}
\lab{31.5}{12}{95)}{}
\lab{31.5}{3.5}{Pol line 1 milli arcsec =\ \ 6.2500E-03 JY/BEAM}{}
\lab{410}{27.5}{Peak contour flux =\ \ 3.1890E-01 JY/BEAM}{}
\lab{410}{19.8}{Levs = 3.189E-03 * (0.100, 0.200, 0.500, 1, 2, 4,}{}
\lab{410}{12}{8, 16, 32, 64, 95)}{}
\lab{410}{3.5}{Pol line 1 milli arcsec =\ \ 2.5000E-03 JY/BEAM}{}
\end{tikzpicture}
\end{document}
